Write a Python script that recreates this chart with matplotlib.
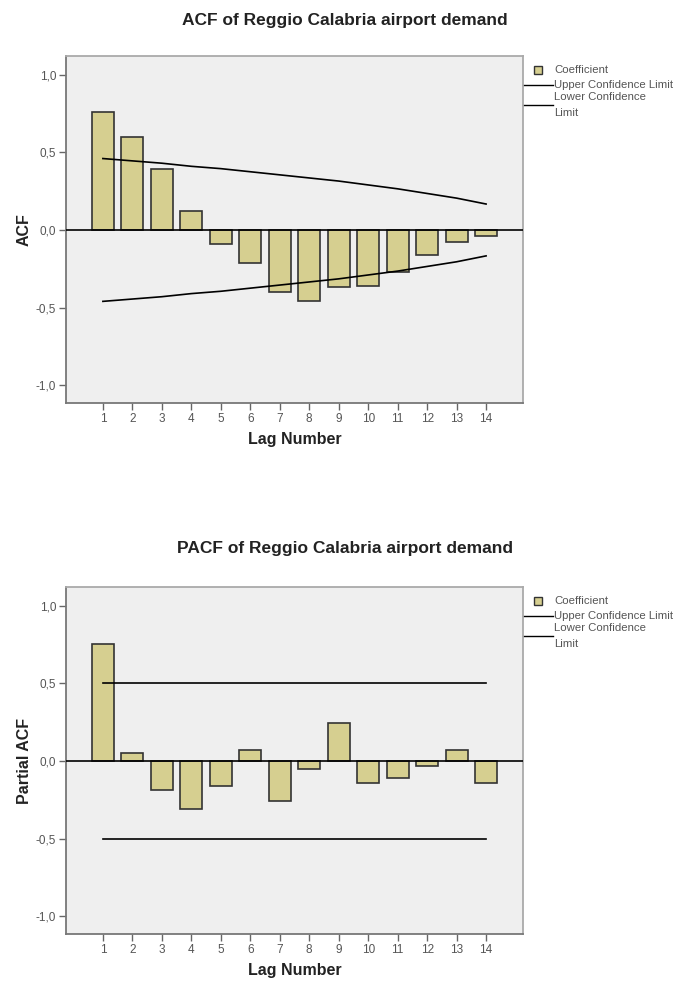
import matplotlib
matplotlib.use("Agg")
import matplotlib.pyplot as plt
import numpy as np

plt.rcParams['font.family'] = ['Liberation Sans', 'DejaVu Sans']

lags = list(range(1, 15))
acf = [0.76, 0.60, 0.39, 0.12, -0.09, -0.21, -0.40, -0.455, -0.37, -0.36, -0.27, -0.16, -0.08, -0.037]
acf_upper = [0.46, 0.445, 0.43, 0.41, 0.395, 0.375, 0.355, 0.335, 0.315, 0.29, 0.265, 0.235, 0.205, 0.167]
acf_lower = [-v for v in acf_upper]

pacf = [0.756, 0.05, -0.19, -0.31, -0.16, 0.07, -0.255, -0.05, 0.245, -0.14, -0.11, -0.03, 0.07, -0.14]
pacf_upper = [0.5] * 14
pacf_lower = [-0.5] * 14

yticks = [-1.0, -0.5, 0.0, 0.5, 1.0]
ytick_labels = ['-1,0', '-0,5', '0,0', '0,5', '1,0']

bar_color = '#d6cf90'
bg = '#efefef'
txt = '#555555'


def panel(ax, vals, up, lo, ylab):
    ax.set_facecolor(bg)
    ax.bar(lags, vals, width=0.75, color=bar_color, edgecolor='#333333', linewidth=1.2, zorder=2)
    ax.axhline(0, color='black', linewidth=1.2, zorder=3)
    ax.plot(lags, up, color='black', linewidth=1.2, zorder=4)
    ax.plot(lags, lo, color='black', linewidth=1.2, zorder=4)
    ax.set_xlim(-0.25, 15.25)
    ax.set_ylim(-1.115, 1.12)
    ax.set_xticks(lags)
    ax.set_xticklabels([str(l) for l in lags], fontsize=8.5, color=txt)
    ax.set_yticks(yticks)
    ax.set_yticklabels(ytick_labels, fontsize=8.5, color=txt)
    ax.tick_params(axis='both', direction='out', length=5, width=1, color='#666666', pad=2)
    for s in ['left', 'bottom']:
        ax.spines[s].set_color('#777777')
        ax.spines[s].set_linewidth(1.3)
    for s in ['top', 'right']:
        ax.spines[s].set_color('#aaaaaa')
        ax.spines[s].set_linewidth(1.3)
    ax.set_xlabel('Lag Number', fontsize=11.5, fontweight='bold', color='#222222', labelpad=5)
    ax.set_ylabel(ylab, fontsize=11.5, fontweight='bold', color='#222222', labelpad=3)

    # legend drawn SPSS style, lines starting at the right spine
    tr = ax.transAxes
    ax.plot([1.0328], [0.9597], marker='s', markersize=5.5, markerfacecolor=bar_color,
            markeredgecolor='#333333', transform=tr, clip_on=False)
    ax.plot([1.0, 1.066], [0.9164, 0.9164], color='black', linewidth=1, transform=tr, clip_on=False)
    ax.plot([1.0, 1.066], [0.8588, 0.8588], color='black', linewidth=1, transform=tr, clip_on=False)
    kw = dict(transform=tr, fontsize=8.2, color='#555555', va='center', ha='left')
    ax.text(1.068, 0.9597, 'Coefficient', **kw)
    ax.text(1.068, 0.9164, 'Upper Confidence Limit', **kw)
    ax.text(1.068, 0.8818, 'Lower Confidence', **kw)
    ax.text(1.068, 0.8357, 'Limit', **kw)


fig = plt.figure(figsize=(6.85, 9.84), dpi=100)
ax1 = fig.add_axes([0.0964, 0.5904, 0.667, 0.3526])
ax2 = fig.add_axes([0.0964, 0.0508, 0.667, 0.3526])

panel(ax1, acf, acf_upper, acf_lower, 'ACF')
panel(ax2, pacf, pacf_upper, pacf_lower, 'Partial ACF')

fig.text(0.503, 1 - 20 / 984, 'ACF of Reggio Calabria airport demand', ha='center', va='center',
         fontsize=12.5, fontweight='bold', color='#222222')
fig.text(0.503, 1 - 548 / 984, 'PACF of Reggio Calabria airport demand', ha='center', va='center',
         fontsize=12.5, fontweight='bold', color='#222222')

fig.savefig('out.png', dpi=100)
